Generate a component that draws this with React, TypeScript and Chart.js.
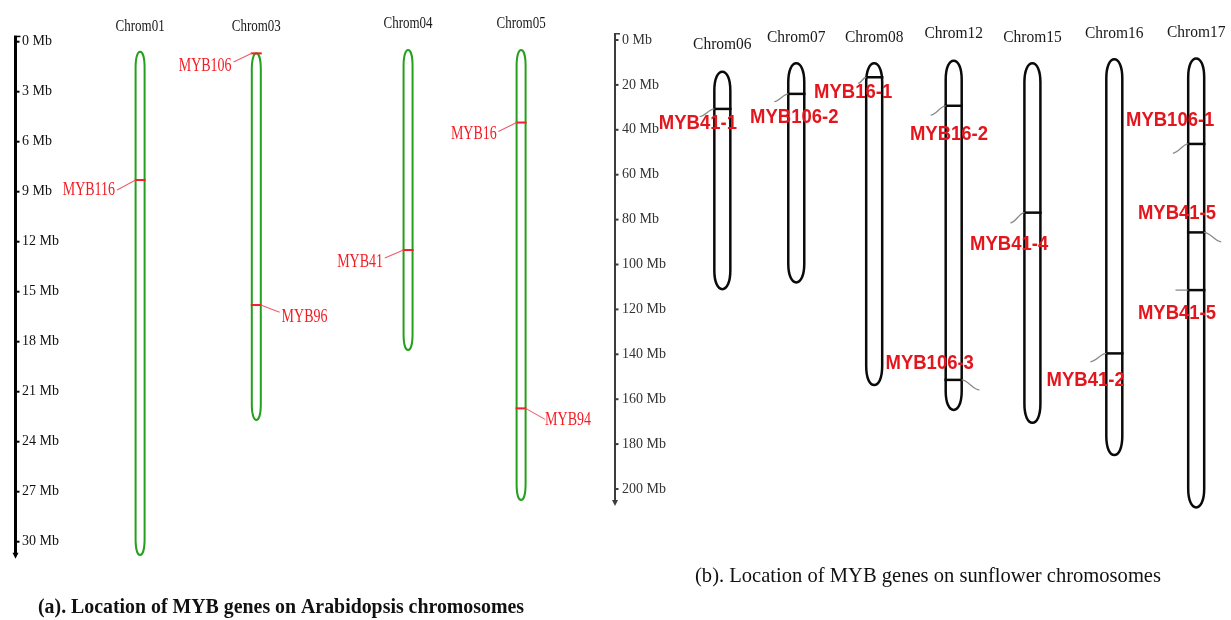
import React, { useEffect, useRef } from 'react';
import { Chart, registerables } from 'chart.js';

Chart.register(...registerables);

// ---------- Panel (a): Arabidopsis ----------
const arabChromNames = ['Chrom01', 'Chrom03', 'Chrom04', 'Chrom05'];
const arabChromStartMb = [0.6, 0.7, 0.5, 0.5];
const arabChromEndMb = [30.8, 22.7, 18.5, 27.5];
const arabGeneNames = ['MYB116', 'MYB106', 'MYB96', 'MYB41', 'MYB16', 'MYB94'];
const arabGeneChrom = ['Chrom01', 'Chrom03', 'Chrom03', 'Chrom04', 'Chrom05', 'Chrom05'];
const arabGeneMb = [8.3, 0.7, 15.8, 12.5, 4.85, 22.0];
const arabTickMb = [0, 3, 6, 9, 12, 15, 18, 21, 24, 27, 30];

// ---------- Panel (b): sunflower ----------
const sunChromNames = ['Chrom06', 'Chrom07', 'Chrom08', 'Chrom12', 'Chrom15', 'Chrom16', 'Chrom17'];
const sunChromStartMb = [14.1, 10.4, 10.4, 9.2, 10.4, 8.6, 8.2];
const sunChromEndMb = [111, 108, 153.7, 164.8, 170.5, 184.9, 208.2];
const sunGeneNames = ['MYB41-1', 'MYB106-2', 'MYB16-1', 'MYB16-2', 'MYB106-3', 'MYB41-4', 'MYB41-2', 'MYB106-1', 'MYB41-5', 'MYB41-5'];
const sunGeneChrom = ['Chrom06', 'Chrom07', 'Chrom08', 'Chrom12', 'Chrom12', 'Chrom15', 'Chrom16', 'Chrom17', 'Chrom17', 'Chrom17'];
const sunGeneMb = [30.7, 24.0, 16.6, 29.3, 151.4, 76.9, 139.6, 46.3, 85.7, 111.4];
const sunTickMb = [0, 20, 40, 60, 80, 100, 120, 140, 160, 180, 200];

// ---------- Layout (track positions on the x scale, label offsets in px) ----------
const ARAB_TRACK_X = [0.985, 1.9, 3.095, 3.985];
const ARAB_TITLE_DY = [-14.7, -14.7, -17.7, -17.7];
const ARAB_LEADER_END = [[-23, 10], [-22.7, 8.7], [23.3, 7.3], [-23.3, 8], [-22.7, 9], [24, 11]];
const ARAB_LABEL_AT = [[-25, 10], [-24.7, 12.7], [25.3, 11.8], [-25, 12], [-24.3, 11.3], [24, 12]];

const SUN_TRACK_X = [1.35, 2.28, 3.26, 4.26, 5.25, 6.28, 7.31];
const SUN_TITLE_DY = [5, -2.5, -2.5, -6, -2.5, -6.7, -7.5];
const SUN_LEADER_END = [[-22.7, 7.7], [-22, 7.7], [-16, 6], [-23, 9.3], [25.7, 10], [-22, 10.3], [-24, 8.4], [-23.3, 9.3], [25, 9.4], [-20.7, 0]];
const SUN_LABEL_AT = [[-24.4, 14.3], [-2, 24], [-21, 15.2], [-4.7, 29], [-24, -16.7], [-23.3, 31.8], [-28.7, 26.7], [-26, -24], [-19.2, -19], [-19.2, 23.3]];

const SERIF = "'Liberation Serif', 'Times New Roman', Times, serif";
const SANS = "'Liberation Sans', Arial, Helvetica, sans-serif";

function drawScaledText(
  ctx: CanvasRenderingContext2D,
  text: string,
  x: number,
  y: number,
  font: string,
  color: string,
  align: CanvasTextAlign,
  sy: number,
  targetWidth?: number,
  baseline: CanvasTextBaseline = 'middle'
) {
  ctx.save();
  ctx.font = font;
  ctx.fillStyle = color;
  ctx.textAlign = align;
  ctx.textBaseline = baseline;
  const sx = targetWidth ? targetWidth / ctx.measureText(text).width : 1;
  ctx.translate(x, y);
  ctx.scale(sx, sy);
  ctx.fillText(text, 0, 0);
  ctx.restore();
}

// Chromosome outline: straight sides with elongated rounded ends
function capsulePath(ctx: CanvasRenderingContext2D, cx: number, top: number, bottom: number, w: number, tip: number) {
  const r = w / 2;
  ctx.beginPath();
  ctx.moveTo(cx - r, top + tip);
  ctx.bezierCurveTo(cx - r, top + tip * 0.35, cx - r * 0.55, top, cx, top);
  ctx.bezierCurveTo(cx + r * 0.55, top, cx + r, top + tip * 0.35, cx + r, top + tip);
  ctx.lineTo(cx + r, bottom - tip);
  ctx.bezierCurveTo(cx + r, bottom - tip * 0.35, cx + r * 0.55, bottom, cx, bottom);
  ctx.bezierCurveTo(cx - r * 0.55, bottom, cx - r, bottom - tip * 0.35, cx - r, bottom - tip);
  ctx.closePath();
}

type PanelSpec = {
  chromNames: string[];
  chromStart: number[];
  chromEnd: number[];
  trackX: number[];
  titleDy: number[];
  geneNames: string[];
  geneChrom: string[];
  geneMb: number[];
  tickMb: number[];
  leaderEnd: number[][];
  labelAt: number[][];
  xMax: number;
  yMax: number;
  padding: { left: number; right: number; top: number; bottom: number };
  chromWidth: number;
  chromTip: number;
  chromColor: string;
  chromLineWidth: number;
  markColor: string;
  markWidth: number;
  leaderColor: string;
  leaderWidth: number;
  curvedLeaders: boolean;
  labelFont: string;
  labelColor: string;
  labelSy: number;
  labelAlign: 'side' | 'center';
  chromTitleFont: string;
  chromTitleSy: number;
  axisColor: string;
  axisWidth: number;
  axisTopExt: number;
  axisBottomExt: number;
  tickFontSize: number;
  tickColor: string;
  title: { text: string; cx: number; baseline: number; font: string; width: number; sy: number };
};

function makePanelPlugin(spec: PanelSpec) {
  return {
    id: 'chromPanel',
    beforeDatasetsDraw(chart: any) {
      const { ctx } = chart;
      const xs = chart.scales.x;
      const ys = chart.scales.y;
      ctx.save();
      spec.chromNames.forEach((_, i) => {
        const cx = xs.getPixelForValue(spec.trackX[i]);
        const top = ys.getPixelForValue(spec.chromStart[i]);
        const bottom = ys.getPixelForValue(spec.chromEnd[i]);
        capsulePath(ctx, cx, top, bottom, spec.chromWidth, spec.chromTip);
        ctx.fillStyle = '#ffffff';
        ctx.fill();
        ctx.strokeStyle = spec.chromColor;
        ctx.lineWidth = spec.chromLineWidth;
        ctx.stroke();
      });
      ctx.restore();
    },
    afterDatasetsDraw(chart: any) {
      const { ctx, chartArea } = chart;
      const xs = chart.scales.x;
      const ys = chart.scales.y;
      const meta = chart.getDatasetMeta(0);
      const half = spec.chromWidth / 2;

      // leader lines
      ctx.save();
      ctx.strokeStyle = spec.leaderColor;
      ctx.lineWidth = spec.leaderWidth;
      meta.data.forEach((pt: any, i: number) => {
        const [lx, ly] = spec.leaderEnd[i];
        const sx = pt.x + (lx < 0 ? -half : half);
        const sy = pt.y;
        const ex = pt.x + lx;
        const ey = pt.y + ly;
        ctx.beginPath();
        ctx.moveTo(sx, sy);
        if (spec.curvedLeaders) {
          const d = ex - sx;
          ctx.bezierCurveTo(sx + d * 0.35, sy, ex - d * 0.35, ey, ex, ey);
        } else {
          ctx.lineTo(ex, ey);
        }
        ctx.stroke();
      });
      ctx.restore();

      // gene labels
      meta.data.forEach((pt: any, i: number) => {
        const [tx, ty] = spec.labelAt[i];
        const align: CanvasTextAlign = spec.labelAlign === 'center' ? 'center' : tx < 0 ? 'right' : 'left';
        drawScaledText(ctx, spec.geneNames[i], pt.x + tx, pt.y + ty, spec.labelFont, spec.labelColor, align, spec.labelSy);
      });

      // chromosome names
      spec.chromNames.forEach((name, i) => {
        const cx = xs.getPixelForValue(spec.trackX[i]);
        drawScaledText(ctx, name, cx, chartArea.top + spec.titleDy[i], spec.chromTitleFont, '#1a1a1a', 'center', spec.chromTitleSy);
      });

      // axis: extended line, top cap, tick nubs and arrow head
      const w = spec.axisWidth;
      const ax = Math.round(ys.right - w / 2) + w / 2;
      const yTop = chartArea.top - spec.axisTopExt;
      const yBot = chartArea.bottom + spec.axisBottomExt;
      ctx.save();
      ctx.strokeStyle = spec.axisColor;
      ctx.fillStyle = spec.axisColor;
      ctx.lineWidth = w;
      ctx.beginPath();
      ctx.moveTo(ax, yTop);
      ctx.lineTo(ax, yBot);
      ctx.stroke();
      ctx.lineWidth = 1.5;
      ctx.beginPath();
      ctx.moveTo(ax - w / 2, yTop + 0.75);
      ctx.lineTo(ax + 5, yTop + 0.75);
      ctx.stroke();
      ctx.lineWidth = 2;
      ys.ticks.forEach((t: any) => {
        const py = ys.getPixelForValue(t.value);
        ctx.beginPath();
        ctx.moveTo(ax, py);
        ctx.lineTo(ax + w / 2 + 2.5, py);
        ctx.stroke();
      });
      ctx.beginPath();
      ctx.moveTo(ax - 3, yBot - 3);
      ctx.lineTo(ax + 3, yBot - 3);
      ctx.lineTo(ax, yBot + 3);
      ctx.closePath();
      ctx.fill();
      ctx.restore();

      // panel caption
      const t = spec.title;
      drawScaledText(ctx, t.text, t.cx, t.baseline, t.font, '#111111', 'center', t.sy, t.width, 'alphabetic');
    },
  };
}

function buildConfig(spec: PanelSpec): any {
  const points = spec.geneMb.map((mb, i) => ({
    x: spec.trackX[spec.chromNames.indexOf(spec.geneChrom[i])],
    y: mb,
  }));
  return {
    type: 'scatter',
    data: {
      datasets: [
        {
          label: 'MYB genes',
          data: points,
          pointStyle: 'line',
          pointRadius: spec.chromWidth / 2 + spec.chromLineWidth / 2,
          pointHoverRadius: spec.chromWidth / 2 + spec.chromLineWidth / 2,
          pointBorderColor: spec.markColor,
          pointBackgroundColor: spec.markColor,
          pointBorderWidth: spec.markWidth,
          borderColor: spec.markColor,
          showLine: false,
          clip: false,
        },
      ],
    },
    options: {
      responsive: false,
      animation: false,
      devicePixelRatio: 1,
      events: [],
      layout: { padding: spec.padding },
      plugins: { legend: { display: false }, tooltip: { enabled: false } },
      scales: {
        x: { type: 'linear', min: 0, max: spec.xMax, display: false },
        y: {
          type: 'linear',
          position: 'left',
          reverse: true,
          min: 0,
          max: spec.yMax,
          afterBuildTicks: (axis: any) => {
            axis.ticks = spec.tickMb.map((v) => ({ value: v }));
          },
          ticks: {
            mirror: true,
            padding: 7,
            autoSkip: false,
            color: spec.tickColor,
            font: { family: SERIF, size: spec.tickFontSize },
            callback: (v: any) => `${v} Mb`,
          },
          grid: { display: true, drawOnChartArea: false, drawTicks: false },
          border: { display: true, color: spec.axisColor, width: spec.axisWidth },
        },
      },
    },
    plugins: [makePanelPlugin(spec)],
  };
}

const arabSpec: PanelSpec = {
  chromNames: arabChromNames,
  chromStart: arabChromStartMb,
  chromEnd: arabChromEndMb,
  trackX: ARAB_TRACK_X,
  titleDy: ARAB_TITLE_DY,
  geneNames: arabGeneNames,
  geneChrom: arabGeneChrom,
  geneMb: arabGeneMb,
  tickMb: arabTickMb,
  leaderEnd: ARAB_LEADER_END,
  labelAt: ARAB_LABEL_AT,
  xMax: 4.5,
  yMax: 30,
  padding: { left: 1, right: 13.5, top: 41.7, bottom: 78.3 },
  chromWidth: 9,
  chromTip: 16,
  chromColor: '#25a01c',
  chromLineWidth: 2,
  markColor: '#f0202a',
  markWidth: 2,
  leaderColor: '#ee5c6c',
  leaderWidth: 1.1,
  curvedLeaders: false,
  labelFont: `14px ${SERIF}`,
  labelColor: '#f21c24',
  labelSy: 1.35,
  labelAlign: 'side',
  chromTitleFont: `13px ${SERIF}`,
  chromTitleSy: 1.3,
  axisColor: '#000000',
  axisWidth: 3,
  axisTopExt: 6,
  axisBottomExt: 14,
  tickFontSize: 14,
  tickColor: '#111111',
  title: {
    text: '(a). Location of MYB genes on Arabidopsis chromosomes',
    cx: 281,
    baseline: 613,
    font: `bold 19px ${SERIF}`,
    width: 486,
    sy: 1.1,
  },
};

const sunSpec: PanelSpec = {
  chromNames: sunChromNames,
  chromStart: sunChromStartMb,
  chromEnd: sunChromEndMb,
  trackX: SUN_TRACK_X,
  titleDy: SUN_TITLE_DY,
  geneNames: sunGeneNames,
  geneChrom: sunGeneChrom,
  geneMb: sunGeneMb,
  tickMb: sunTickMb,
  leaderEnd: SUN_LEADER_END,
  labelAt: SUN_LABEL_AT,
  xMax: 7.6,
  yMax: 200,
  padding: { left: 1, right: 8, top: 40, bottom: 131 },
  chromWidth: 16,
  chromTip: 19,
  chromColor: '#0a0a0a',
  chromLineWidth: 2.5,
  markColor: '#0a0a0a',
  markWidth: 2.5,
  leaderColor: '#8a8a8a',
  leaderWidth: 1.3,
  curvedLeaders: true,
  labelFont: `bold 18.5px ${SANS}`,
  labelColor: '#e3161d',
  labelSy: 1.1,
  labelAlign: 'center',
  chromTitleFont: `15.5px ${SERIF}`,
  chromTitleSy: 1.05,
  axisColor: '#3c3c3c',
  axisWidth: 2,
  axisTopExt: 7,
  axisBottomExt: 14,
  tickFontSize: 14,
  tickColor: '#333333',
  title: {
    text: '(b). Location of MYB genes on sunflower chromosomes',
    cx: 328,
    baseline: 582,
    font: `20px ${SERIF}`,
    width: 466,
    sy: 1.1,
  },
};

function PanelChart({ spec, left, width }: { spec: PanelSpec; left: number; width: number }) {
  const ref = useRef<HTMLCanvasElement>(null);
  useEffect(() => {
    if (!ref.current) return;
    const chart = new Chart(ref.current, buildConfig(spec));
    return () => chart.destroy();
  }, [spec]);
  return (
    <canvas
      ref={ref}
      width={width}
      height={620}
      style={{ position: 'absolute', left, top: 0, width, height: 620 }}
    />
  );
}

export default function App() {
  return (
    <div style={{ position: 'absolute', left: 0, top: 0, width: 1231, height: 620, background: '#ffffff', overflow: 'hidden' }}>
      <PanelChart spec={arabSpec} left={0} width={600} />
      <PanelChart spec={sunSpec} left={600} width={631} />
    </div>
  );
}
